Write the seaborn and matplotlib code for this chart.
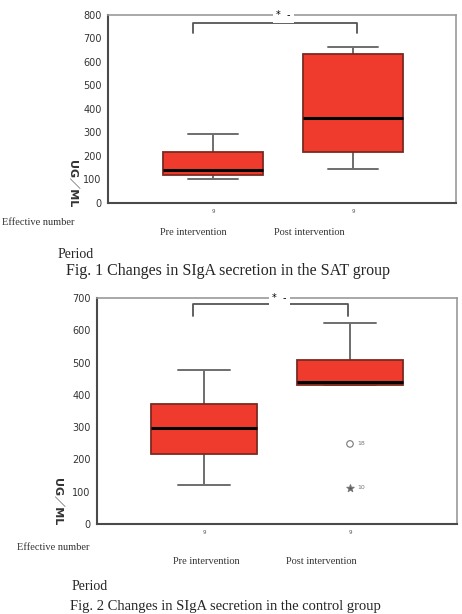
import matplotlib
matplotlib.use("Agg")
import matplotlib.pyplot as plt
import numpy as np
import pandas as pd
import seaborn as sns

# x categories and number of cases per period
periods = ["Pre intervention", "Post intervention"]
n_cases = ["9", "9"]

# five-number summaries:
# low whisker, Q1, median, Q3, high whisker (UG/ML)
sat_pre = [100, 120, 140, 215, 295]
sat_post = [145, 215, 362, 632, 665]
ctrl_pre = [120, 217, 298, 373, 477]
ctrl_post = [430, 430, 440, 507, 622]

# outliers of the second chart (post intervention)
ctrl_outlier_values = [248, 112]
ctrl_outlier_cases = ["18", "10"]
ctrl_outlier_markers = ["o", "*"]

y_top = [800, 700]
captions = [
    "Fig. 1 Changes in SIgA secretion in the SAT group",
    "Fig. 2 Changes in SIgA secretion in the control group",
]

BOX_RED = "#ee3b2e"
EDGE = "#7c2a20"
GREY = "#6e6e6e"
SERIF = ["Liberation Serif", "DejaVu Serif"]
UNIT_FONT = ["DejaVu Sans", "Noto Sans CJK JP"]


def long_frame(pre, post):
    return pd.DataFrame({
        "period": [periods[0]] * len(pre) + [periods[1]] * len(post),
        "value": pre + post,
    })


def draw_panel(ax, pre, post, top, xlim, bracket, outliers=None):
    sns.boxplot(
        data=long_frame(pre, post), x="period", y="value", order=periods,
        ax=ax, color=BOX_RED, saturation=1, width=0.72, whis=(0, 100),
        linecolor=EDGE, linewidth=1.3, showfliers=False,
        medianprops={"color": "black", "linewidth": 2.2},
        whiskerprops={"color": GREY, "linewidth": 1.4},
        capprops={"color": GREY, "linewidth": 1.4},
    )
    # boxes above whiskers/caps, medians on top
    for p in ax.patches:
        p.set_zorder(2.2)
    for line in ax.lines:
        if line.get_color() == "black":
            line.set_zorder(3)
    if outliers is not None:
        values, cases, markers = outliers
        for v, c, m in zip(values, cases, markers):
            x = periods.index(periods[1])
            sns.scatterplot(x=[x], y=[v], marker=m, s=22 if m == "o" else 30,
                            facecolor="none" if m == "o" else "#555555",
                            edgecolor="#777777", linewidth=0.8, ax=ax, zorder=4)
            ax.text(x + 0.05, v, c, fontsize=4.5, color="#777777",
                    va="center", ha="left")
    ax.set_xlim(*xlim)
    ax.set_ylim(0, top)
    ax.set_yticks(np.arange(0, top + 1, 100))
    ax.set_xticks([0, 1], labels=n_cases)
    ax.set_xlabel("")
    ax.set_ylabel("")
    ax.tick_params(axis="y", direction="out", length=3, width=1.2,
                   color="#444444", labelsize=7, labelcolor="#333333", pad=1.5)
    ax.tick_params(axis="x", direction="out", length=2, width=1.2,
                   color="#444444", labelsize=4, labelcolor="#555555", pad=2)
    for side in ["left", "bottom"]:
        ax.spines[side].set_color("#4a4a4a")
        ax.spines[side].set_linewidth(1.5)
    for side in ["top", "right"]:
        ax.spines[side].set_color("#9a9a9a")
        ax.spines[side].set_linewidth(1.2)
    # significance bracket
    x0, x1, y_leg, y_bar = bracket
    ax.plot([x0, x0, x1, x1], [y_leg, y_bar, y_bar, y_leg], color="#555555",
            linewidth=1.3, clip_on=False)
    ax.text((x0 + x1) / 2 + 0.06, top, "*  -", fontsize=7, ha="center",
            va="center", color="black", clip_on=False, zorder=5,
            bbox=dict(facecolor="white", edgecolor="none", pad=2.5))


sns.set_style("white")
plt.rcParams["font.family"] = ["DejaVu Sans"]

fig = plt.figure(figsize=(4.62, 6.14), dpi=100)
W, H = 462, 614


def px_axes(left, top, right, bottom):
    return fig.add_axes([left / W, 1 - bottom / H, (right - left) / W,
                         (bottom - top) / H])


ax1 = px_axes(108, 15, 456, 203)
draw_panel(ax1, sat_pre, sat_post, y_top[0], (-0.75, 1.736),
           (-0.14, 1.03, 723, 766))
ax2 = px_axes(97, 298, 457, 524)
draw_panel(ax2, ctrl_pre, ctrl_post, y_top[1], (-0.733, 1.733),
           (-0.075, 0.986, 644, 681),
           outliers=(ctrl_outlier_values, ctrl_outlier_cases,
                     ctrl_outlier_markers))


def ftext(x, y, s, **kw):
    fig.text(x / W, 1 - y / H, s, **kw)


# panel 1 labels
ftext(72, 184, "UG／ML", rotation=270, fontsize=8, fontweight="bold",
      family=UNIT_FONT, color="#333333", ha="center", va="center")
ftext(2, 223, "Effective number", fontsize=7.5, family=SERIF, va="center",
      color="#333333")
ftext(193, 233, periods[0], fontsize=7.5, family=SERIF, ha="center",
      va="center", color="#333333")
ftext(309, 233, periods[1], fontsize=7.5, family=SERIF, ha="center",
      va="center", color="#333333")
ftext(58, 255, "Period", fontsize=10, family=SERIF, va="center")
ftext(66, 271, captions[0], fontsize=11.5, family=SERIF, va="center")

# panel 2 labels
ftext(57, 502, "UG／ML", rotation=270, fontsize=8, fontweight="bold",
      family=UNIT_FONT, color="#333333", ha="center", va="center")
ftext(17, 547, "Effective number", fontsize=7.5, family=SERIF, va="center",
      color="#333333")
ftext(206, 562, periods[0], fontsize=7.5, family=SERIF, ha="center",
      va="center", color="#333333")
ftext(321, 562, periods[1], fontsize=7.5, family=SERIF, ha="center",
      va="center", color="#333333")
ftext(72, 586, "Period", fontsize=10, family=SERIF, va="center")
ftext(70, 613, captions[1], fontsize=10.5, family=SERIF, va="bottom")

fig.savefig("out.png", dpi=100)
